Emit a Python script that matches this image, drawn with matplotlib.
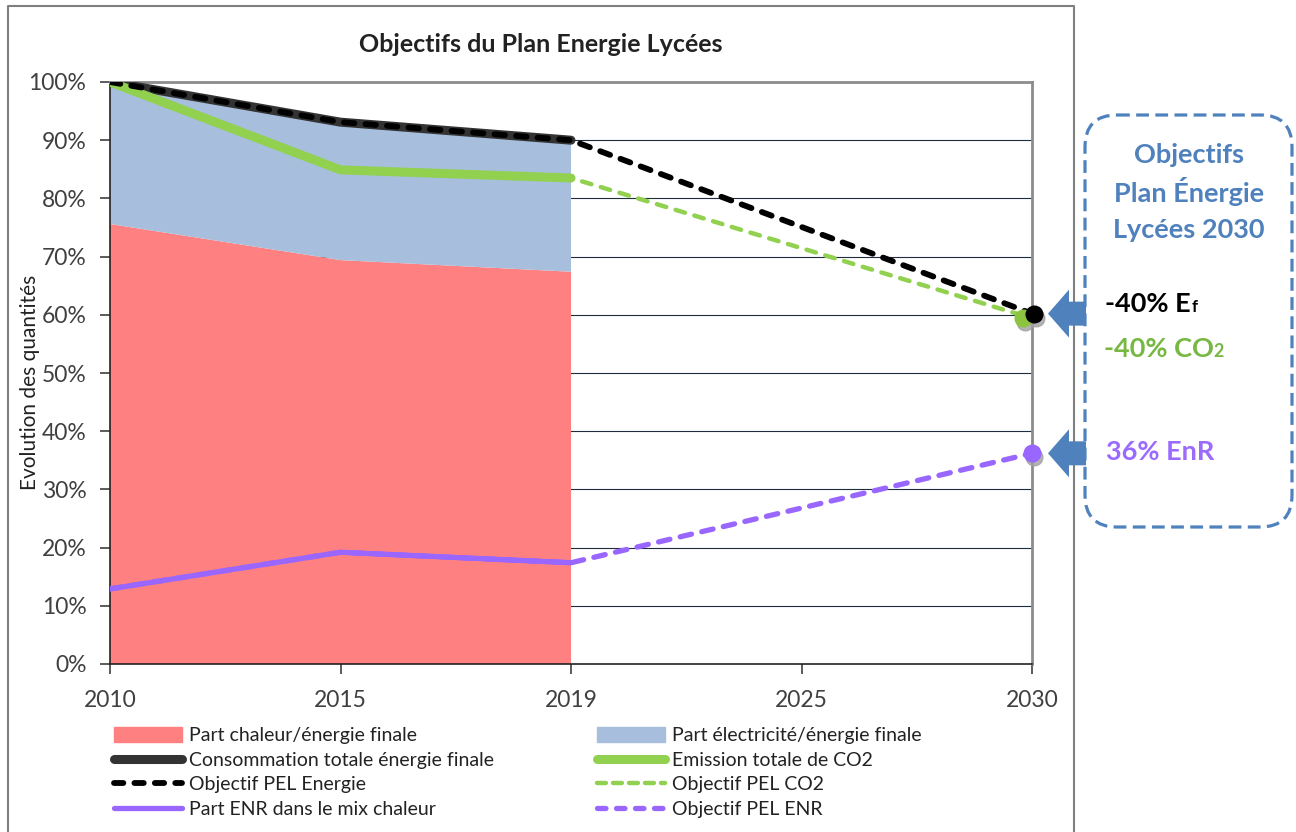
import numpy as np
import matplotlib
matplotlib.use("Agg")
import matplotlib.pyplot as plt
import matplotlib.patches as mpatches
from matplotlib.lines import Line2D
from matplotlib.transforms import offset_copy

plt.rcParams['font.family'] = ['Lato', 'DejaVu Sans']

# data (percent of 2010 level)
years = ["2010", "2015", "2019", "2025", "2030"]
chaleur = [75.6, 69.4, 67.4]
electricite = [24.4, 23.7, 22.6]
conso_totale = [100.0, 93.1, 90.0]
co2_total = [100.0, 84.9, 83.5]
enr_chaleur = [12.9, 19.2, 17.4]
obj_energie = [100.0, 93.1, 90.0, np.nan, 60.2]
obj_co2 = [100.0, 84.9, 83.5, np.nan, 59.4]
obj_enr = [12.9, 19.2, 17.4, np.nan, 36.2]

C_RED = "#FF8080"
C_BLUE = "#A7BFDD"
C_DARK = "#333333"
C_GREEN = "#92D050"
C_PURPLE = "#9966FF"
C_STEEL = "#4F81BD"

W, H = 1296, 832
fig = plt.figure(figsize=(W / 100, H / 100), dpi=100)
ax = fig.add_axes([110 / W, 1 - 664 / H, (1032 - 110) / W, (664 - 82) / H])

x = np.arange(len(years))
xa = x[:len(chaleur)]

ax.stackplot(xa, chaleur, electricite, colors=[C_RED, C_BLUE], zorder=1)

for v in range(10, 100, 10):
    ax.axhline(v, color="#1F2D3D", lw=0.8, zorder=0.5)

def dash_line(vals, **kw):
    v = np.array(vals, dtype=float)
    m = ~np.isnan(v)
    ax.plot(x[m], v[m], **kw)

ax.plot(xa, conso_totale, color=C_DARK, lw=6.5, solid_capstyle="round", zorder=3)
ax.plot(xa, co2_total, color=C_GREEN, lw=6.5, solid_capstyle="round", zorder=4)
dash_line(obj_energie, color="black", lw=4.2, dashes=(1.8, 1.9), dash_capstyle="round", zorder=5)
dash_line(obj_co2, color=C_GREEN, lw=3.2, dashes=(2.2, 2.2), dash_capstyle="round", zorder=3.5)
ax.plot(xa, enr_chaleur, color=C_PURPLE, lw=3.8, solid_capstyle="round", zorder=4)
dash_line(obj_enr, color=C_PURPLE, lw=3.8, dashes=(2.2, 2.0), dash_capstyle="round", zorder=4)

# end markers with a soft shadow
for val, col, dx in [(obj_co2[-1], "#8CC43F", -9), (obj_energie[-1], "black", 2), (obj_enr[-1], C_PURPLE, 0)]:
    tr = offset_copy(ax.transData, fig=fig, x=dx, y=0, units="dots")
    trs = offset_copy(ax.transData, fig=fig, x=dx + 2, y=-4, units="dots")
    ax.plot([4], [val], "o", ms=12, color="#A0A0A0", alpha=0.8, transform=trs, zorder=6, clip_on=False)
    ax.plot([4], [val], "o", ms=12, color=col, transform=tr, zorder=7, clip_on=False)

ax.set_xlim(0, 4)
ax.set_ylim(0, 100)
ax.set_xticks(x)
ax.set_xticklabels(years)
ax.set_yticks(range(0, 101, 10))
ax.set_yticklabels([f"{v}%" for v in range(0, 101, 10)])
ax.tick_params(axis="both", labelsize=16.5, colors="#404040", length=7, width=1.2, direction="out")
ax.tick_params(axis="x", pad=12)
ax.tick_params(axis="y", pad=10)
for s in ["left", "bottom"]:
    ax.spines[s].set_color("#222222")
    ax.spines[s].set_linewidth(1.2)
for s in ["top", "right"]:
    ax.spines[s].set_color("#8C8C8C")
    ax.spines[s].set_linewidth(2)

fig.text(30 / W, 1 - 382 / H, "Evolution des quantités", rotation=90, ha="center", va="center",
         fontsize=15, color="#222222")
fig.text(541 / W, 1 - 45 / H, "Objectifs du Plan Energie Lycées", ha="center", va="center",
         fontsize=18, fontweight="bold", color="#222222")

handles = [
    mpatches.Patch(color=C_RED),
    Line2D([], [], color=C_DARK, lw=6.5, solid_capstyle="round"),
    Line2D([], [], color="black", lw=4.2, dashes=(1.6, 1.9), dash_capstyle="round"),
    Line2D([], [], color=C_PURPLE, lw=3.8, solid_capstyle="round"),
    mpatches.Patch(color=C_BLUE),
    Line2D([], [], color=C_GREEN, lw=6.5, solid_capstyle="round"),
    Line2D([], [], color=C_GREEN, lw=3.2, dashes=(2.0, 1.6), dash_capstyle="round"),
    Line2D([], [], color=C_PURPLE, lw=3.8, dashes=(1.6, 2.0), dash_capstyle="round"),
]
labels = [
    "Part chaleur/énergie finale", "Consommation totale énergie finale",
    "Objectif PEL Energie", "Part ENR dans le mix chaleur",
    "Part électricité/énergie finale", "Emission totale de CO2",
    "Objectif PEL CO2", "Objectif PEL ENR",
]
fig.legend(handles, labels, ncol=2, loc="upper left", bbox_to_anchor=(114 / W, 1 - 727 / H),
           frameon=False, fontsize=14, handlelength=3.5, handleheight=0.8, handletextpad=0.35,
           columnspacing=5.3, labelspacing=0.38, labelcolor="#222222", borderaxespad=0, borderpad=0)

# overlay in pixel coordinates for the frame and the objectives box
ov = fig.add_axes([0, 0, 1, 1], facecolor="none", zorder=10)
ov.set_xlim(0, W)
ov.set_ylim(H, 0)
ov.axis("off")
ov.plot([8, 8, 1074, 1074], [H + 5, 6, 6, H + 5], color="#7F7F7F", lw=1.5, clip_on=False)

box = mpatches.FancyBboxPatch((1085, 115), 207, 412, boxstyle="round,pad=0,rounding_size=32",
                              facecolor="white", edgecolor=C_STEEL, lw=2.3, ls=(0, (4, 2)))
ov.add_patch(box)

def yp(v):
    return H - ax.transData.transform((4, v))[1]

for v in [obj_energie[-1], obj_enr[-1]]:
    yc = yp(v)
    pts = [(1048, yc), (1069, yc - 24), (1069, yc - 12), (1086, yc - 12),
           (1086, yc + 12), (1069, yc + 12), (1069, yc + 24)]
    ov.add_patch(mpatches.Polygon(pts, closed=True, facecolor=C_STEEL, edgecolor="none", zorder=11))

for txt, yy in [("Objectifs", 155), ("Plan Énergie", 192), ("Lycées 2030", 230)]:
    ov.text(1189, yy, txt, ha="center", va="center", fontsize=19.5, fontweight="bold", color=C_STEEL)

t1 = ov.text(1105, 304, "-40% E", ha="left", va="center", fontsize=19.5, fontweight="bold", color="black")
ov.annotate("f", xy=(1, 0), xycoords=t1, xytext=(1, 1), textcoords="offset points",
            ha="left", va="bottom", fontsize=12, fontweight="bold", color="black")
t2 = ov.text(1104, 349, "-40% CO", ha="left", va="center", fontsize=19.5, fontweight="bold", color="#77B843")
ov.annotate("2", xy=(1, 0), xycoords=t2, xytext=(0, 1), textcoords="offset points",
            ha="left", va="bottom", fontsize=13, fontweight="bold", color="#77B843")
ov.text(1106, 452, "36% EnR", ha="left", va="center", fontsize=19.5, fontweight="bold", color="#9B6BFF")

fig.savefig("out.png", dpi=100)
